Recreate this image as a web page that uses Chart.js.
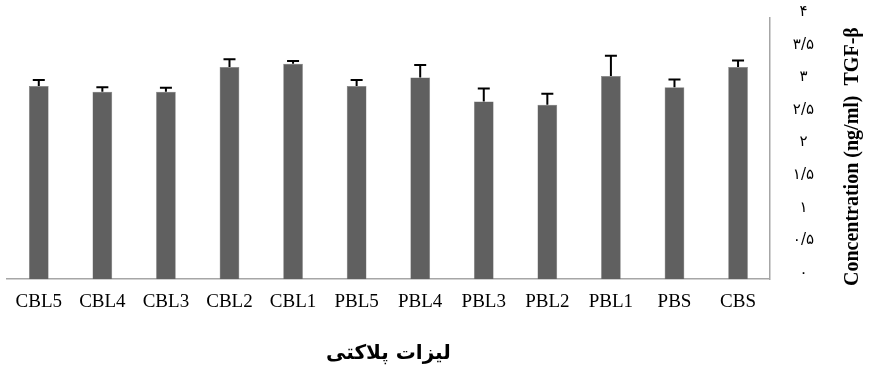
<!DOCTYPE html>
<html>
<head>
<meta charset="utf-8">
<script src="https://cdn.jsdelivr.net/npm/chart.js@4"></script>
<style>
  html, body { margin: 0; padding: 0; background: #fff; }
  #wrap { width: 878px; height: 367px; }
</style>
</head>
<body>
<div id="wrap"><canvas id="tgfChart"></canvas></div>
<script>
const categories = ['CBL5', 'CBL4', 'CBL3', 'CBL2', 'CBL1', 'PBL5', 'PBL4', 'PBL3', 'PBL2', 'PBL1', 'PBS', 'CBS'];
const tgfValues = [2.96, 2.87, 2.87, 3.25, 3.30, 2.96, 3.09, 2.72, 2.67, 3.11, 2.94, 3.25];
const tgfErrors = [0.09, 0.07, 0.06, 0.12, 0.04, 0.09, 0.19, 0.20, 0.17, 0.31, 0.12, 0.10];
const yTicks = [0, 0.5, 1, 1.5, 2, 2.5, 3, 3.5, 4];
const yTitle = 'Concentration (ng/ml)  TGF-β';
const xTitle = 'لیزات پلاکتی';

function toPersian(n) {
  const digits = '۰۱۲۳۴۵۶۷۸۹';
  return String(n).replace('.', '/').replace(/[0-9]/g, d => digits[d]);
}

// draws the upward error bars from tgfErrors using the chart's own scale
const errorBars = {
  id: 'errorBars',
  afterDatasetsDraw(chart) {
    const ctx = chart.ctx;
    const yScale = chart.scales.y;
    const meta = chart.getDatasetMeta(0);
    ctx.save();
    ctx.strokeStyle = '#000';
    ctx.lineWidth = 2;
    meta.data.forEach((bar, i) => {
      const top = yScale.getPixelForValue(tgfValues[i] + tgfErrors[i]);
      ctx.beginPath();
      ctx.moveTo(bar.x, bar.y);
      ctx.lineTo(bar.x, top);
      ctx.moveTo(bar.x - 6, top);
      ctx.lineTo(bar.x + 6, top);
      ctx.stroke();
    });
    ctx.restore();
  }
};

// y title reads bottom-to-top on the right side
const rightTitle = {
  id: 'rightTitle',
  afterDraw(chart) {
    const ctx = chart.ctx;
    const area = chart.chartArea;
    ctx.save();
    ctx.translate(853, (area.top + area.bottom) / 2 + 8);
    ctx.rotate(-Math.PI / 2);
    ctx.font = 'bold 20px "Liberation Serif", "Times New Roman", serif';
    ctx.fillStyle = '#000';
    ctx.textAlign = 'center';
    ctx.textBaseline = 'middle';
    ctx.fillText(yTitle, 0, 0);
    ctx.restore();
  }
};

window.addEventListener('DOMContentLoaded', () => {
  new Chart(document.getElementById('tgfChart'), {
    type: 'bar',
    data: {
      labels: categories,
      datasets: [{ data: tgfValues, backgroundColor: '#606060', borderColor: '#7a7a7a', borderWidth: 0.5,
        barPercentage: 0.31, categoryPercentage: 1 }]
    },
    options: {
      responsive: true,
      maintainAspectRatio: false,
      animation: false,
      layout: { padding: { left: 7, right: 41, top: 18, bottom: 0 } },
      plugins: { legend: { display: false }, tooltip: { enabled: false } },
      scales: {
        x: {
          grid: { display: false, drawTicks: false },
          border: { display: true, color: '#a6a6a6', width: 1.5 },
          ticks: { color: '#000', padding: 11, font: { family: '"Liberation Serif", "Times New Roman", serif', size: 19 } },
          title: { display: true, text: xTitle, color: '#000', padding: { top: 18, bottom: 1 },
            font: { family: '"DejaVu Sans", sans-serif', size: 20, weight: 'bold' } }
        },
        y: {
          position: 'right',
          min: 0, max: 4,
          afterBuildTicks(scale) { scale.ticks = yTicks.map(v => ({ value: v })); },
          afterFit(scale) { scale.paddingTop = 0; scale.paddingBottom = 0; },
          grid: { display: false, drawTicks: false },
          border: { display: true, color: '#a6a6a6', width: 1.5 },
          ticks: { color: '#000', padding: 23, crossAlign: 'center',
            font: { family: '"DejaVu Sans", sans-serif', size: 15, lineHeight: 0.8 },
            // empty second line lifts the label a little above its tick, like the reference
            callback: v => [toPersian(v), ''] }
        }
      }
    },
    plugins: [errorBars, rightTitle]
  });
});
</script>
</body>
</html>
